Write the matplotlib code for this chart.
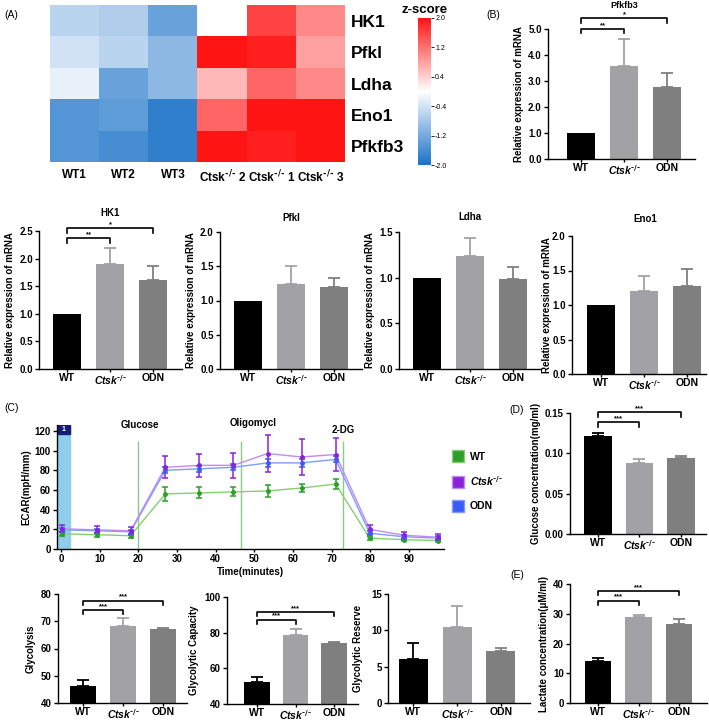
import matplotlib.pyplot as plt
import numpy as np
from matplotlib import font_manager
from matplotlib.colors import LinearSegmentedColormap
from matplotlib.patches import Patch, Rectangle

plt.rcParams['font.family'] = ['Liberation Sans', 'DejaVu Sans']
plt.rcParams['font.weight'] = 'bold'
plt.rcParams['axes.labelweight'] = 'bold'
plt.rcParams['mathtext.default'] = 'regular'

# narrow face for the heatmap labels when it is there
names = {f.name for f in font_manager.fontManager.ttflist}
NARROW = ['Liberation Sans Narrow', 'Liberation Sans'] if 'Liberation Sans Narrow' in names \
    else ['Liberation Sans', 'DejaVu Sans']

W, H = 709, 722

# ---- (A) heatmap data ----
genes = ['HK1', 'Pfkl', 'Ldha', 'Eno1', 'Pfkfb3']
samples = ['WT1', 'WT2', 'WT3', 'Ctsk$^{\\text{-/-}}$ 2', 'Ctsk$^{\\text{-/-}}$ 1',
           'Ctsk$^{\\text{-/-}}$ 3']
zscores = [
    [-0.6, -0.7, -1.3, 0.0, 1.6, 1.0],
    [-0.4, -0.6, -1.0, 2.0, 1.9, 0.8],
    [-0.2, -1.3, -1.0, 0.6, 1.3, 1.0],
    [-1.5, -1.4, -1.8, 1.3, 2.0, 2.0],
    [-1.5, -1.6, -1.8, 2.0, 1.9, 2.0],
]
cbar_ticks = [2.0, 1.2, 0.4, -0.4, -1.2, -2.0]

# ---- bar chart data (WT, Ctsk-/-, ODN) ----
groups = ['WT', 'Ctsk$^{\\text{-/-}}$', 'ODN']
pfkfb3_mean = [1.0, 3.57, 2.77]
pfkfb3_err = [0.0, 1.05, 0.54]
hk1_mean = [1.0, 1.91, 1.61]
hk1_err = [0.0, 0.28, 0.26]
pfkl_mean = [1.0, 1.24, 1.20]
pfkl_err = [0.0, 0.27, 0.13]
ldha_mean = [1.0, 1.24, 0.99]
ldha_err = [0.0, 0.19, 0.13]
eno1_mean = [1.0, 1.20, 1.27]
eno1_err = [0.0, 0.22, 0.25]
glucose_mean = [0.121, 0.088, 0.094]
glucose_err = [0.004, 0.005, 0.003]
glycolysis_mean = [46.2, 68.4, 67.0]
glycolysis_err = [2.1, 2.9, 0.7]
capacity_mean = [52.2, 78.6, 74.1]
capacity_err = [2.7, 3.6, 0.5]
reserve_mean = [6.0, 10.4, 7.1]
reserve_err = [2.3, 3.0, 0.5]
lactate_mean = [14.0, 29.0, 26.5]
lactate_err = [1.2, 0.6, 1.8]

# ---- (C) ECAR time course ----
times = [0.3, 9.3, 18.0, 27.0, 35.8, 44.6, 53.4, 62.2, 71.0, 79.8, 88.6, 97.4]
wt_ecar = [15.5, 14.5, 13.5, 56.0, 57.0, 58.0, 59.0, 62.0, 66.0, 11.0, 9.5, 8.5]
wt_sd = [2.0, 2.0, 2.0, 7.0, 5.5, 4.5, 6.0, 4.5, 5.5, 1.5, 1.5, 1.5]
ko_ecar = [20.5, 19.5, 18.5, 83.0, 85.0, 85.0, 97.0, 93.5, 96.0, 20.0, 14.0, 12.0]
ko_sd = [3.5, 3.5, 4.0, 11.0, 12.0, 13.0, 19.0, 18.0, 16.5, 4.5, 3.5, 3.0]
odn_ecar = [19.5, 18.5, 17.5, 80.0, 81.5, 83.0, 87.5, 87.5, 91.0, 16.0, 12.5, 11.0]
odn_sd = [2.0, 2.0, 2.0, 3.0, 3.0, 3.0, 4.0, 4.0, 3.0, 2.0, 2.0, 2.0]
injections = [20.0, 46.5, 73.0]
injection_names = ['Glucose', 'Oligomycl', '2-DG']

bar_colors = ['#000000', '#a2a2a6', '#7f7f7f']

fig = plt.figure(figsize=(W / 100, H / 100), dpi=100)


def px_axes(l, t, r, b):
    return fig.add_axes([l / W, 1 - b / H, (r - l) / W, (b - t) / H])


def px_text(x, y, s, **kw):
    fig.text(x / W, 1 - y / H, s, **kw)


def style(ax, size=7):
    for s in ['top', 'right']:
        ax.spines[s].set_visible(False)
    for s in ['left', 'bottom']:
        ax.spines[s].set_linewidth(1.0)
    ax.tick_params(labelsize=size, width=1.0, length=3, pad=1.5)


def bracket(ax, x1, x2, y, drop, label):
    ax.plot([x1, x1, x2, x2], [y - drop, y, y, y - drop], color='black',
            lw=1.2, clip_on=False)
    ax.text((x1 + x2) / 2, y, label, ha='center', va='bottom', fontsize=5.5,
            clip_on=False)


def bar_panel(rect, xlim, means, errs, ylim, yticks, fmt, ylabel,
              labelpad=2, sig=None):
    ax = px_axes(*rect)
    x = np.arange(len(groups))
    ax.bar(x, means, width=0.66, color=bar_colors, zorder=2)
    for i in range(len(groups)):
        if errs[i] > 0:
            ax.errorbar(x[i], means[i], yerr=[[0], [errs[i]]],
                        color=bar_colors[i], capsize=4, elinewidth=1.3,
                        capthick=1.3, zorder=1)
    ax.set_xlim(*xlim)
    ax.set_ylim(*ylim)
    ax.set_yticks(yticks)
    ax.set_yticklabels([fmt % v for v in yticks])
    ax.set_xticks(x)
    ax.set_xticklabels(groups)
    ax.get_xticklabels()[1].set_fontstyle('italic')
    style(ax)
    ax.tick_params(axis='x', length=2, labelsize=7.5, pad=1)
    ax.set_ylabel(ylabel, fontsize=7, labelpad=labelpad)
    if sig:
        for (x2, y, drop, lab) in sig:
            bracket(ax, 0, x2, y, drop, lab)
    return ax


# ---- (A) heatmap ----
cmap = LinearSegmentedColormap.from_list(
    'zs', ['#1a72c8', '#ffffff', '#ff1414'])
axh = px_axes(50, 5, 345, 162)
im = axh.imshow(np.array(zscores), cmap=cmap, vmin=-2, vmax=2,
                aspect='auto', interpolation='nearest')
axh.set_xticks(range(len(samples)))
axh.set_xticklabels(samples, fontsize=8.5, family=NARROW)
axh.set_yticks(range(len(genes)))
axh.set_yticklabels(genes, fontsize=12.5, family=NARROW)
axh.yaxis.tick_right()
axh.tick_params(length=0, pad=5)
axh.tick_params(axis='y', pad=4)
for s in axh.spines.values():
    s.set_visible(False)

cax = px_axes(418, 18, 431, 165)
cb = fig.colorbar(im, cax=cax, ticks=cbar_ticks)
cb.outline.set_visible(False)
cb.ax.set_yticklabels(['%.1f' % v for v in cbar_ticks])
cb.ax.tick_params(labelsize=5, length=2, width=0.6, pad=1)
for lab in cb.ax.get_yticklabels():
    lab.set_fontweight('normal')
px_text(425, 10, 'z-score', ha='center', va='center', fontsize=9.5)
px_text(4, 15, '(A)', ha='left', va='center', fontsize=7.5, fontweight='normal')

# ---- (B) Pfkfb3 ----
px_text(493, 15, '(B)', ha='center', va='center', fontsize=7.5,
        fontweight='normal')
bar_panel((548, 29, 695, 159), (-0.77, 2.65), pfkfb3_mean, pfkfb3_err,
          (0, 5), [0, 1, 2, 3, 4, 5], '%.1f',
          'Relative expression of mRNA', labelpad=3,
          sig=[(1, 5.0, 0.16, '**'), (2, 5.42, 0.2, '*')])
px_text(624, 6, 'Pfkfb3', ha='center', va='center', fontsize=6.5)

# ---- row 2: HK1, Pfkl, Ldha, Eno1 ----
bar_panel((39, 231, 182, 369), (-0.65, 2.67), hk1_mean, hk1_err, (0, 2.5),
          [0, 0.5, 1.0, 1.5, 2.0, 2.5], '%.1f', 'Relative expression of mRNA',
          labelpad=3, sig=[(1, 2.37, 0.09, '**'), (2, 2.55, 0.09, '*')])
px_text(110, 213, 'HK1', ha='center', va='center', fontsize=7)
bar_panel((220, 232, 362, 369), (-0.65, 2.65), pfkl_mean, pfkl_err, (0, 2.0),
          [0, 0.5, 1.0, 1.5, 2.0], '%.1f', 'Relative expression of mRNA',
          labelpad=3)
px_text(291, 218, 'Pfkl', ha='center', va='center', fontsize=7)
bar_panel((399, 232, 541, 369), (-0.65, 2.65), ldha_mean, ldha_err, (0, 1.5),
          [0, 0.5, 1.0, 1.5], '%.1f', 'Relative expression of mRNA',
          labelpad=3)
px_text(470, 217, 'Ldha', ha='center', va='center', fontsize=7)
bar_panel((572, 236, 706, 374), (-0.67, 2.44), eno1_mean, eno1_err, (0, 2.0),
          [0, 0.5, 1.0, 1.5, 2.0], '%.1f', 'Relative expression of mRNA',
          labelpad=0)
px_text(645, 219, 'Eno1', ha='center', va='center', fontsize=7)

# ---- (C) ECAR ----
px_text(4, 408, '(C)', ha='left', va='center', fontsize=7.5, fontweight='normal')
axc = px_axes(57, 425, 444, 549)
axc.axvspan(-1, 2.3, color='#8fcdea', zorder=0)
axc.add_patch(Rectangle((-1, 116.5), 3.3, 9.5, color='#141c78', zorder=1))
axc.text(0.65, 121, '1', color='white', ha='center', va='center', fontsize=5)
axc.vlines(injections, 0, 110, color='#8cc98c', lw=1.0, zorder=1)
label_pos = [(20.4, 126), (49.6, 128), (73.0, 121)]
for (lx, ly), nm in zip(label_pos, injection_names):
    axc.text(lx, ly, nm, ha='center', va='center', fontsize=7, clip_on=False)
series = [
    (wt_ecar, wt_sd, '#86cf6e', '#2e9e2a'),
    (odn_ecar, odn_sd, '#7d9cff', '#3a5cf5'),
    (ko_ecar, ko_sd, '#c08cf0', '#8a22d8'),
]
for vals, sd, lc, ec in series:
    axc.plot(times, vals, color=lc, lw=1.0, zorder=2)
    axc.errorbar(times, vals, yerr=sd, fmt='o', ms=2.5, color=ec, ecolor=ec,
                 elinewidth=1.1, capsize=2.5, capthick=1.1, zorder=3)
axc.set_xlim(-1, 99)
axc.set_ylim(0, 126)
axc.set_xticks(range(0, 100, 10))
axc.set_yticks(range(0, 121, 20))
style(axc, size=7)
axc.tick_params(axis='x', length=2)
axc.set_xlabel('Time(minutes)', fontsize=7, labelpad=2)
axc.set_ylabel('ECAR(mpH/mm)', fontsize=7, labelpad=2)

handles = [Patch(facecolor='#2e9e2a', edgecolor='#86cf6e'),
           Patch(facecolor='#8a22d8', edgecolor='#c08cf0'),
           Patch(facecolor='#3a5cf5', edgecolor='#7d9cff')]
leg = fig.legend(handles, ['WT', 'Ctsk$^{\\text{-/-}}$', 'ODN'], loc='upper left',
                 bbox_to_anchor=(443 / W, 1 - 441 / H), frameon=False,
                 fontsize=7.5, handlelength=1.1, handleheight=1.4,
                 labelspacing=1.1, handletextpad=0.6)
leg.get_texts()[1].set_fontstyle('italic')

# ---- (D) glucose ----
px_text(517, 410, '(D)', ha='center', va='center', fontsize=7.5,
        fontweight='normal')
bar_panel((570, 413, 706, 534), (-0.67, 2.6), glucose_mean, glucose_err,
          (0, 0.15), [0, 0.05, 0.10, 0.15], '%.2f',
          'Glucose concentration(mg/ml)', labelpad=3,
          sig=[(1, 0.139, 0.006, '***'), (2, 0.151, 0.006, '***')])

# ---- row 4 ----
bar_panel((58, 594, 187, 703), (-0.63, 2.6), glycolysis_mean, glycolysis_err,
          (40, 80), [40, 50, 60, 70, 80], '%d', 'Glycolysis', labelpad=4,
          sig=[(1, 74.0, 1.5, '***'), (2, 77.6, 1.5, '***')])
bar_panel((227, 597, 358, 704), (-0.78, 2.62), capacity_mean, capacity_err,
          (40, 100), [40, 60, 80, 100], '%d', 'Glycolytic Capacity',
          labelpad=4, sig=[(1, 87.3, 2.3, '***'), (2, 91.7, 2.3, '***')])
bar_panel((388, 594, 530, 703), (-0.57, 2.66), reserve_mean, reserve_err,
          (0, 15), [0, 5, 10, 15], '%d', 'Glycolytic Reserve', labelpad=6)
px_text(517, 575, '(E)', ha='center', va='center', fontsize=7.5,
        fontweight='normal')
bar_panel((570, 584, 707, 703), (-0.69, 2.69), lactate_mean, lactate_err,
          (0, 40), [0, 10, 20, 30, 40], '%d',
          'Lactate concentration(\u03bcM/ml)', labelpad=3,
          sig=[(1, 34.4, 1.4, '***'), (2, 37.7, 1.4, '***')])

fig.savefig('out.png', dpi=100)
